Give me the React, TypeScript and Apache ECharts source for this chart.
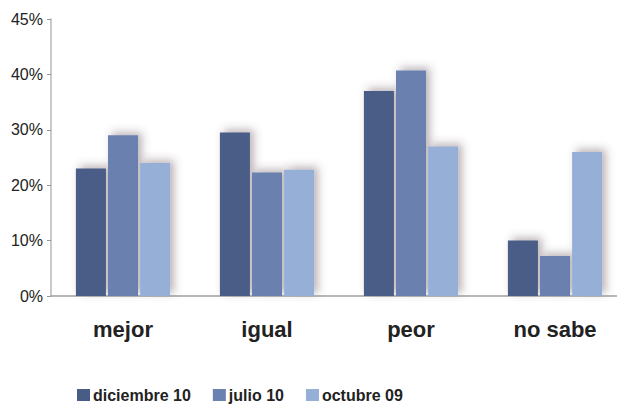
import React, { useEffect, useRef } from "react";
import * as echarts from "echarts";

const categories = ["mejor", "igual", "peor", "no sabe"];
const seriesNames = ["diciembre 10", "julio 10", "octubre 09"];
const dic10 = [23, 29.5, 37, 10];
const jul10 = [29, 22.3, 40.7, 7.2];
const oct09 = [24, 22.8, 27, 26];
const colors = ["#485d86", "#6b81b0", "#96afd6"];

export default function App() {
  const ref = useRef<HTMLDivElement>(null);
  useEffect(() => {
    const chart = echarts.init(ref.current!, null, { renderer: "svg" });
    const font = "Liberation Sans, Arial, sans-serif";
    const mk = (name: string, data: number[], i: number) => ({
      name,
      type: "bar",
      data,
      barWidth: 30,
      barGap: "7%",
      itemStyle: {
        color: colors[i],
        shadowBlur: 8,
        shadowOffsetX: 4,
        shadowOffsetY: -3,
        shadowColor: "rgba(90,70,80,0.4)",
      },
    });
    chart.setOption({
      animation: false,
      textStyle: { fontFamily: font },
      grid: { left: 51, top: 19, width: 576, height: 277, containLabel: false },
      legend: {
        left: 77,
        top: 387,
        padding: 0,
        itemWidth: 13,
        itemHeight: 12,
        itemGap: 22,
        icon: "rect",
        textStyle: {
          fontFamily: font,
          fontSize: 16,
          lineHeight: 15,
          fontWeight: "bold",
          color: "#222",
          padding: [0, 0, 0, -2],
        },
        data: seriesNames,
      },
      xAxis: {
        type: "category",
        data: categories,
        axisLine: { lineStyle: { color: "#a0a0a0", width: 1.5 } },
        axisTick: { show: false },
        axisLabel: { fontFamily: font, fontSize: 22, fontWeight: "bold", color: "#222", margin: 22 },
      },
      yAxis: {
        type: "value",
        min: 0,
        max: 50,
        interval: 10,
        splitLine: { show: false },
        axisLine: { show: true, lineStyle: { color: "#b8b8b8", width: 1.5 } },
        axisTick: { show: true, length: 4, lineStyle: { color: "#999" } },
        axisLabel: {
          fontFamily: font,
          fontSize: 16,
          color: "#222",
          margin: 8,
          formatter: (v: number) => (v === 50 ? "45%" : v + "%"),
        },
      },
      series: [mk(seriesNames[0], dic10, 0), mk(seriesNames[1], jul10, 1), mk(seriesNames[2], oct09, 2)],
    });
    return () => chart.dispose();
  }, []);
  return (
    <div style={{ position: "fixed", left: 0, top: 0, width: 617, height: 405, overflow: "hidden", background: "#fff" }}>
      <div ref={ref} style={{ position: "absolute", left: 0, top: 0, width: 640, height: 405 }} />
    </div>
  );
}
